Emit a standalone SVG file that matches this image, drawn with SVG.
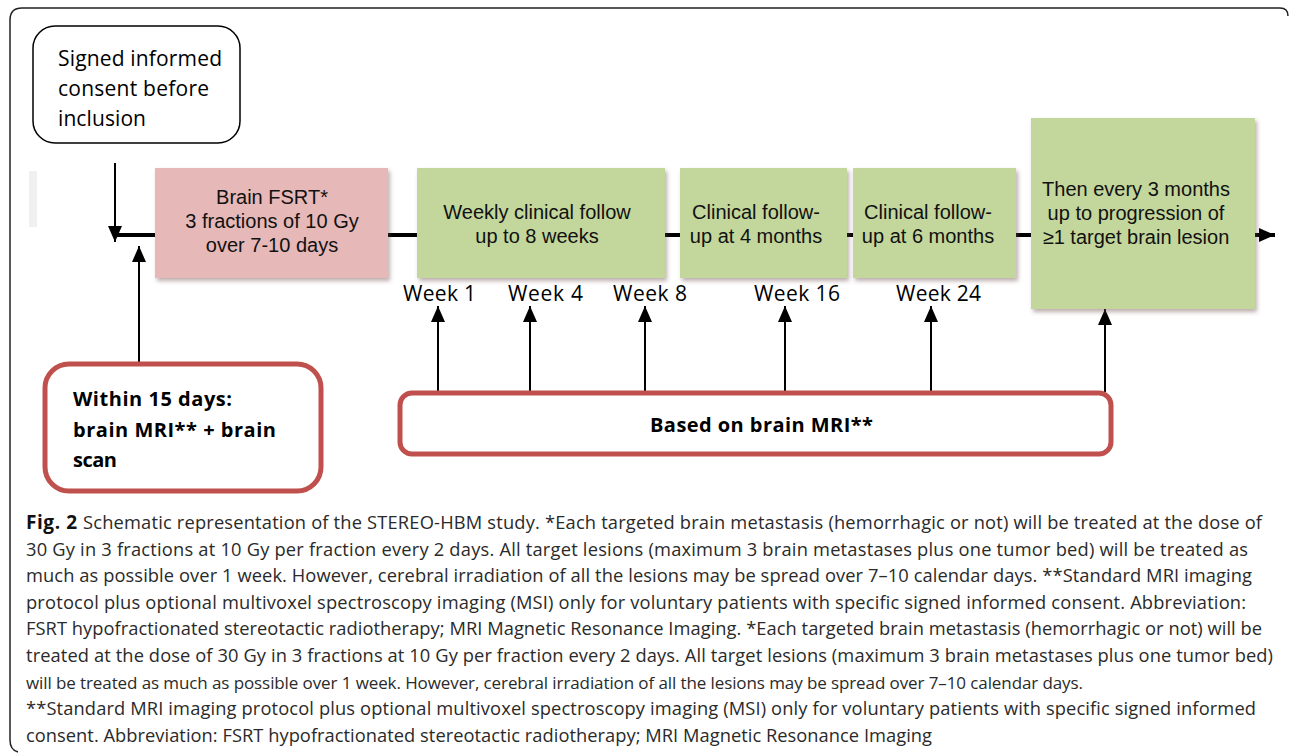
<svg xmlns="http://www.w3.org/2000/svg" width="1290" height="755" viewBox="0 0 1290 755">
<style>
.frame{fill:none;stroke:#222;stroke-width:1.5}
.box{filter:url(#sh)}
.pink{fill:#e6b8b7}
.green{fill:#c3d69b}
.round{fill:#fff;stroke:#000;stroke-width:1.5}
.red{fill:#fff;stroke:#c0504d;stroke-width:5}
.arial{font-family:"Liberation Sans",Arial,sans-serif;font-size:20px;fill:#111;text-anchor:middle}
.cal{font-family:"Open Sans","Noto Sans",sans-serif;font-size:21px;fill:#000}
.calb{font-family:"Open Sans","Noto Sans",sans-serif;font-size:20px;font-weight:bold;fill:#000}
.cap{font-family:"Open Sans","Noto Sans",sans-serif;font-size:18.3px;fill:#2a2a2a}
.small{font-size:17px}
.capb{font-family:"Open Sans","Noto Sans",sans-serif;font-size:19px;font-weight:bold;fill:#111}
.thin{fill:none;stroke:#000;stroke-width:2}
.thick{fill:none;stroke:#000;stroke-width:4}
</style>
<defs>
<filter id="sh" x="-10%" y="-10%" width="125%" height="130%">
<feDropShadow dx="2" dy="3" stdDeviation="2" flood-color="#6b4a4a" flood-opacity="0.45"/>
</filter>
<marker id="ah" markerUnits="userSpaceOnUse" markerWidth="16" markerHeight="14" refX="16" refY="7" orient="auto">
<path d="M0,0 L16,7 L0,14 z" fill="#000"/>
</marker>
</defs>
<rect width="1290" height="755" fill="#fff"/>
<path class="frame" d="M1288,16 Q1288,8 1280,8 L22,8 Q10,8 10,20 L10,740 Q10,750 18,752"/>
<rect x="29" y="171" width="8" height="56" fill="#f0f0f0"/>

<g id="connectors">
<line class="thick" x1="113" y1="235" x2="1275" y2="235" marker-end="url(#ah)"/>
<line class="thin" x1="115" y1="163" x2="115" y2="242" marker-end="url(#ah)"/>
<line class="thin" x1="139" y1="362" x2="139" y2="246" marker-end="url(#ah)"/>
<line class="thin" x1="438" y1="392" x2="438" y2="306" marker-end="url(#ah)"/>
<line class="thin" x1="530" y1="392" x2="530" y2="306" marker-end="url(#ah)"/>
<line class="thin" x1="645" y1="392" x2="645" y2="306" marker-end="url(#ah)"/>
<line class="thin" x1="785" y1="392" x2="785" y2="306" marker-end="url(#ah)"/>
<line class="thin" x1="931" y1="392" x2="931" y2="306" marker-end="url(#ah)"/>
<line class="thin" x1="1105" y1="392" x2="1105" y2="309" marker-end="url(#ah)"/>
</g>

<g id="consent">
<rect class="round" x="33" y="26" width="207" height="117" rx="22"/>
<text class="cal" x="58" y="66" textLength="164">Signed informed</text>
<text class="cal" x="58" y="96" textLength="151">consent before</text>
<text class="cal" x="58" y="126" textLength="88">inclusion</text>
</g>

<g id="fsrt">
<rect class="box pink" x="155" y="168" width="233" height="110"/>
<text class="arial" x="272" y="204">Brain FSRT*</text>
<text class="arial" x="272" y="228">3 fractions of 10 Gy</text>
<text class="arial" x="272" y="252">over 7-10 days</text>
</g>

<g id="weekly">
<rect class="box green" x="417" y="168" width="248" height="110"/>
<text class="arial" x="537" y="219">Weekly clinical follow</text>
<text class="arial" x="537" y="243">up to 8 weeks</text>
</g>

<g id="month4">
<rect class="box green" x="680" y="168" width="167" height="110"/>
<text class="arial" x="756" y="219">Clinical follow-</text>
<text class="arial" x="756" y="243">up at 4 months</text>
</g>

<g id="month6">
<rect class="box green" x="853" y="168" width="163" height="110"/>
<text class="arial" x="928" y="219">Clinical follow-</text>
<text class="arial" x="928" y="243">up at 6 months</text>
</g>

<g id="every3">
<rect class="box green" x="1031" y="118" width="224" height="191"/>
<text class="arial" x="1136" y="196">Then every 3 months</text>
<text class="arial" x="1136" y="220">up to progression of</text>
<text class="arial" x="1136" y="244">≥1 target brain lesion</text>
</g>

<g id="weeks">
<text class="cal" x="403" y="301" textLength="73">Week 1</text>
<text class="cal" x="508" y="301" textLength="75">Week 4</text>
<text class="cal" x="613" y="301" textLength="74">Week 8</text>
<text class="cal" x="754" y="301" textLength="86">Week 16</text>
<text class="cal" x="896" y="301" textLength="85">Week 24</text>
</g>

<g id="within15">
<rect class="red" x="45" y="364" width="276" height="127" rx="24"/>
<text class="calb" x="73" y="406" textLength="159">Within 15 days:</text>
<text class="calb" x="73" y="437" textLength="203">brain MRI** + brain</text>
<text class="calb" x="73" y="467" textLength="44">scan</text>
</g>

<g id="mri">
<rect class="red" x="400" y="393" width="711" height="61" rx="12"/>
<text class="calb" x="650" y="432" textLength="223">Based on brain MRI**</text>
</g>

<g id="caption">
<text class="capb" x="26" y="529" textLength="51">Fig. 2</text>
<text class="cap" x="83" y="529" textLength="1179">Schematic representation of the STEREO-HBM study. *Each targeted brain metastasis (hemorrhagic or not) will be treated at the dose of</text>
<text class="cap" x="26" y="555.6" textLength="1222">30 Gy in 3 fractions at 10 Gy per fraction every 2 days. All target lesions (maximum 3 brain metastases plus one tumor bed) will be treated as</text>
<text class="cap" x="26" y="582.2" textLength="1226">much as possible over 1 week. However, cerebral irradiation of all the lesions may be spread over 7–10 calendar days. **Standard MRI imaging</text>
<text class="cap" x="26" y="608.8" textLength="1220">protocol plus optional multivoxel spectroscopy imaging (MSI) only for voluntary patients with specific signed informed consent. Abbreviation:</text>
<text class="cap" x="26" y="635.4" textLength="1236">FSRT hypofractionated stereotactic radiotherapy; MRI Magnetic Resonance Imaging. *Each targeted brain metastasis (hemorrhagic or not) will be</text>
<text class="cap" x="26" y="662" textLength="1247">treated at the dose of 30 Gy in 3 fractions at 10 Gy per fraction every 2 days. All target lesions (maximum 3 brain metastases plus one tumor bed)</text>
<text class="cap small" x="26" y="688.6" textLength="1057">will be treated as much as possible over 1 week. However, cerebral irradiation of all the lesions may be spread over 7–10 calendar days.</text>
<text class="cap" x="26" y="715.2" textLength="1230">**Standard MRI imaging protocol plus optional multivoxel spectroscopy imaging (MSI) only for voluntary patients with specific signed informed</text>
<text class="cap" x="26" y="741.8" textLength="906">consent. Abbreviation: FSRT hypofractionated stereotactic radiotherapy; MRI Magnetic Resonance Imaging</text>
</g>
</svg>
